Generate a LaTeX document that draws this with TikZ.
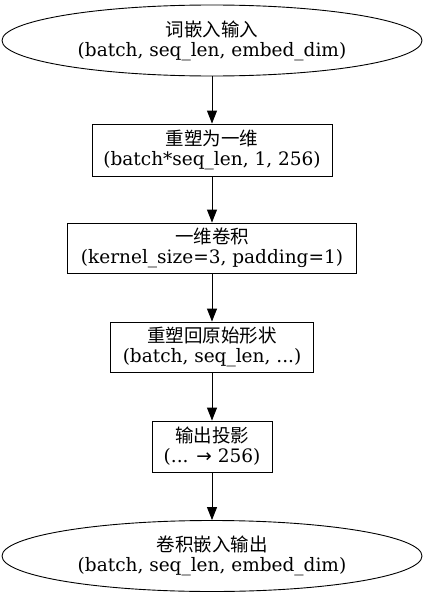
\documentclass[tikz,border=0pt]{standalone}
\usepackage{fontspec}
\setmainfont{DejaVu Serif}
\newfontfamily\cjk{Noto Sans CJK SC}
\usetikzlibrary{shapes.geometric,arrows.meta}
\begin{document}
\begin{tikzpicture}[x=1pt,y=-1pt,
  base/.style={draw, line width=0.9pt, align=center, font=\fontsize{18.5}{20}\selectfont, inner sep=0pt},
  term/.style={base, ellipse, minimum width=420pt, minimum height=71pt},
  proc/.style={base, rectangle},
  arr/.style={-{Triangle[length=13pt,width=10pt]}, line width=0.9pt}]
\useasboundingbox (0,0) rectangle (426,597);
\node[term] (n1) at (212,40.5) {{\cjk 词嵌入输入}\\(batch, seq\_len, embed\_dim)};
\node[proc, minimum width=240pt, minimum height=52pt] (n2) at (212,150) {{\cjk 重塑为一维}\\(batch*seq\_len, 1, 256)};
\node[proc, minimum width=289pt, minimum height=50pt] (n3) at (212,248) {{\cjk 一维卷积}\\(kernel\_size=3, padding=1)};
\node[proc, minimum width=203pt, minimum height=50pt] (n4) at (212,347) {{\cjk 重塑回原始形状}\\(batch, seq\_len, ...)};
\node[proc, minimum width=120pt, minimum height=51pt] (n5) at (212,446.5) {{\cjk 输出投影}\\(... {\fontspec{DejaVu Sans}→} 256)};
\node[term] (n6) at (212,556) {{\cjk 卷积嵌入输出}\\(batch, seq\_len, embed\_dim)};
\draw[arr] (n1) -- (n2);
\draw[arr] (n2) -- (n3);
\draw[arr] (n3) -- (n4);
\draw[arr] (n4) -- (n5);
\draw[arr] (n5) -- (n6);
\end{tikzpicture}
\end{document}
